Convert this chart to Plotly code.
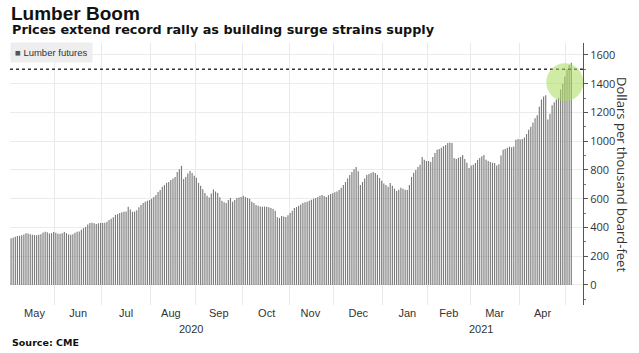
import pandas as pd
import plotly.graph_objects as go

# Daily lumber futures closes (USD per thousand board-feet), one list per month
may20 = [325, 330, 335, 340, 342, 345, 350, 360, 358, 352, 348, 347, 345, 348, 352, 365, 370, 366, 358, 360, 368]
jun20 = [362, 356, 355, 360, 368, 360, 350, 348, 352, 362, 370, 372, 383, 395, 403, 420, 431, 432, 428, 424, 428, 431]
jul20 = [430, 433, 440, 452, 460, 470, 487, 492, 500, 505, 508, 510, 543, 525, 508, 510, 520, 540, 556, 570, 578, 585, 590]
aug20 = [600, 612, 625, 647, 660, 682, 695, 710, 716, 730, 740, 751, 786, 805, 828, 737, 751, 775, 793, 779, 760]
sep20 = [745, 710, 690, 665, 640, 620, 608, 635, 664, 650, 640, 610, 585, 575, 570, 590, 605, 578, 590, 605, 608, 612]
oct20 = [620, 612, 605, 600, 578, 570, 555, 550, 545, 543, 545, 543, 540, 535, 528, 515, 470, 466, 480, 476, 473, 485]
nov20 = [500, 515, 535, 542, 550, 560, 570, 575, 578, 585, 592, 600, 605, 612, 620, 626, 618, 612, 625, 633, 638]
dec20 = [645, 650, 660, 675, 695, 716, 740, 765, 786, 805, 820, 790, 695, 716, 740, 765, 772, 779, 785, 779, 765, 744, 725]
jan21 = [705, 695, 682, 709, 690, 670, 654, 662, 675, 668, 662, 660, 695, 751, 780, 800, 820, 835, 890, 870, 862]
feb21 = [862, 855, 890, 918, 940, 946, 955, 965, 974, 988, 990, 988, 883, 876, 885, 890, 904, 876, 850, 814]
mar21 = [830, 835, 848, 870, 883, 895, 904, 870, 862, 855, 850, 848, 830, 840, 900, 940, 945, 955, 962, 958, 962, 1010, 1015]
apr21 = [1012, 1015, 1025, 1050, 1080, 1100, 1130, 1160, 1180, 1240, 1290, 1310, 1320, 1150, 1190, 1250, 1270, 1290, 1300, 1360, 1400, 1450]
may21 = [1500, 1530, 1545]

values = may20 + jun20 + jul20 + aug20 + sep20 + oct20 + nov20 + dec20 + jan21 + feb21 + mar21 + apr21 + may21
dates = pd.bdate_range("2020-05-01", "2021-05-05")
assert len(dates) == len(values)

record_level = 1500
y_ticks = [0, 200, 400, 600, 800, 1000, 1200, 1400, 1600]
year_labels = ["2020", "2021"]
year_label_dates = ["2020-08-28", "2021-03-06"]

TXT = "#333333"

# Each daily bar drawn as a thin vertical stroke (so the white gaps between bars survive)
mid = dates + pd.Timedelta(hours=12)
bx, by = [], []
for d, v in zip(mid, values):
    bx += [d, d, None]
    by += [0, v, None]

fig = go.Figure()
fig.add_scatter(x=bx, y=by, mode="lines", name="Lumber futures",
                line=dict(color="#7a7a7a", width=1.15), showlegend=False,
                hoverinfo="skip")

fig.update_layout(
    width=639, height=353,
    margin=dict(l=10, r=56, t=43, b=48),
    paper_bgcolor="white", plot_bgcolor="white",
    font=dict(family="DejaVu Sans", color=TXT),
    xaxis=dict(type="date", range=["2020-05-01", "2021-05-13"],
               rangebreaks=[dict(bounds=["sat", "mon"])],
               dtick="M1", tick0="2020-05-01", tickformat="%b",
               ticklabelmode="period", showgrid=True, gridcolor="#e9e9e9",
               gridwidth=1, zeroline=False, showline=False, ticks="",
               tickfont=dict(family="Liberation Sans", size=11, color=TXT)),
    yaxis=dict(side="right", range=[-140, 1683], tickvals=y_ticks,
               showgrid=True, gridcolor="#ebebeb", zeroline=False,
               showline=True, linecolor="#555555", linewidth=1,
               ticks="outside", ticklen=4, tickcolor="#555555",
               minor=dict(dtick=100, ticks="outside", ticklen=2, tickcolor="#777777", showgrid=False),
               tickfont=dict(family="Open Sans", size=11, color=TXT)),
)

fig.add_shape(type="line", xref="paper", x0=0, x1=1, yref="y", y0=record_level, y1=record_level,
              line=dict(color="#333333", width=1.5, dash="dot"))
fig.add_shape(type="circle", xref="x", xsizemode="pixel", xanchor=mid[-1], x0=-25, x1=12,
              yref="y", ysizemode="pixel", yanchor=1410, y0=-19, y1=19,
              fillcolor="rgba(170,220,90,0.55)", line=dict(width=0))

ann = []
ann.append(dict(text="<b>Lumber Boom</b>", xref="paper", yref="paper", x=0, y=1.112,
                xanchor="left", yanchor="middle", showarrow=False, xshift=-1,
                font=dict(family="Liberation Sans", size=19, color="#111111")))
ann.append(dict(text="<b>Prices extend record rally as building surge strains supply</b>",
                xref="paper", yref="paper", x=0, y=1.05, xanchor="left", yanchor="middle",
                showarrow=False, font=dict(family="DejaVu Sans", size=12.8, color="#111111")))
ann.append(dict(text="<span style='color:#555'>■</span> Lumber futures", xref="paper", yref="paper",
                x=0, y=1, xanchor="left", yanchor="top", showarrow=False, bgcolor="#eeeeee",
                borderpad=4, yshift=1, font=dict(family="Liberation Sans", size=9.5, color=TXT)))
ann.append(dict(text="Dollars per thousand board-feet", xref="paper", yref="paper", x=1, y=0.5,
                xshift=39, textangle=90, showarrow=False, xanchor="center", yanchor="middle",
                font=dict(family="Open Sans", size=13, color=TXT)))
for lbl, d in zip(year_labels, year_label_dates):
    ann.append(dict(text=lbl, xref="x", yref="paper", x=d, y=-0.09, showarrow=False,
                    xanchor="center", yanchor="middle",
                    font=dict(family="Liberation Sans", size=11, color=TXT)))
ann.append(dict(text="<b>Source: CME</b>", xref="paper", yref="paper", x=0, y=-0.145,
                xanchor="left", yanchor="middle", showarrow=False,
                font=dict(family="DejaVu Sans", size=9.5, color="#111111")))
fig.update_layout(annotations=ann)

fig.write_html("out.html")
